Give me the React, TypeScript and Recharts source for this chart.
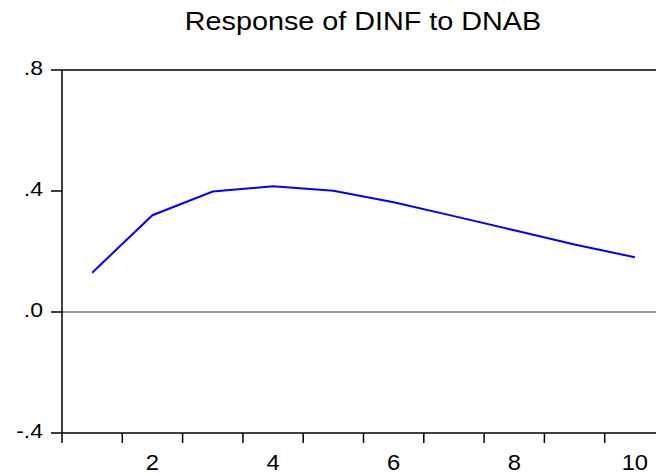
import React from 'react';
import { LineChart, Line, XAxis, YAxis, ReferenceLine } from 'recharts';

const periods = [1, 2, 3, 4, 5, 6, 7, 8, 9, 10];
const response = [0.13, 0.32, 0.398, 0.416, 0.401, 0.363, 0.317, 0.27, 0.223, 0.181];
const yTicks = [-0.4, 0, 0.4, 0.8];
const xLabelTicks = [2, 4, 6, 8, 10];
const xBoundaryTicks = [0.5, 1.5, 2.5, 3.5, 4.5, 5.5, 6.5, 7.5, 8.5, 9.5, 10.5];

const data = periods.map((p, i) => ({ period: p, value: response[i] }));

const fmtY = (v: number) => {
  if (v === 0) return '.0';
  const s = v.toFixed(1);
  return s.replace('0.', '.');
};

const font = '"Liberation Sans", Arial, sans-serif';

const XLabel = (props: any) => {
  const { x, y, payload } = props;
  return (
    <text
      x={x}
      y={y}
      dy={16}
      textAnchor="middle"
      fill="#000"
      fontSize={22}
      fontFamily={font}
      transform={`translate(${x} 0) scale(1.08 1) translate(${-x} 0)`}
    >
      {payload.value}
    </text>
  );
};

const YLabel = (props: any) => {
  const { x, y, payload } = props;
  return (
    <text
      x={x}
      y={y}
      dy={5}
      textAnchor="end"
      fill="#000"
      fontSize={20}
      fontFamily={font}
      transform={`translate(${x} 0) scale(1.15 1) translate(${-x} 0)`}
    >
      {fmtY(payload.value)}
    </text>
  );
};

export default function App() {
  return (
    <div
      style={{
        position: 'absolute',
        left: 0,
        top: 0,
        width: 656,
        height: 475,
        overflow: 'hidden',
        background: '#fff',
        fontFamily: font,
      }}
    >
      <div
        style={{
          position: 'absolute',
          left: 63,
          top: 7,
          width: 600,
          textAlign: 'center',
          fontSize: 25,
          color: '#000',
          transform: 'scaleX(1.15)',
          transformOrigin: '300px 0',
        }}
      >
        Response of DINF to DNAB
      </div>
      <LineChart
        width={680}
        height={475}
        data={data}
        margin={{ top: 70, right: 15, bottom: 0, left: 0 }}
      >
        <XAxis
          xAxisId="grid"
          dataKey="period"
          type="number"
          domain={[0.5, 10.5]}
          ticks={xBoundaryTicks}
          tickFormatter={() => ''}
          tickSize={10}
          height={1}
          stroke="#000"
          strokeWidth={1.5}
          allowDataOverflow
        />
        <XAxis
          xAxisId="labels"
          dataKey="period"
          type="number"
          domain={[0.5, 10.5]}
          ticks={xLabelTicks}
          axisLine={false}
          tickLine={false}
          tickSize={9}
          tickMargin={11}
          height={41}
          tick={<XLabel />}
          allowDataOverflow
        />
        <YAxis
          type="number"
          domain={[-0.4, 0.8]}
          ticks={yTicks}
          tickFormatter={fmtY}
          width={62}
          tickSize={11}
          tickMargin={8}
          stroke="#000"
          strokeWidth={1.5}
          tick={<YLabel />}
          allowDataOverflow
        />
        <ReferenceLine xAxisId="grid" y={0.8} stroke="#000" strokeWidth={1.5} />
        <ReferenceLine xAxisId="grid" y={0} stroke="#777" strokeWidth={1.5} />
        <Line
          xAxisId="grid"
          dataKey="value"
          type="linear"
          stroke="#0000ff"
          strokeWidth={2}
          dot={false}
          isAnimationActive={false}
        />
      </LineChart>
    </div>
  );
}
